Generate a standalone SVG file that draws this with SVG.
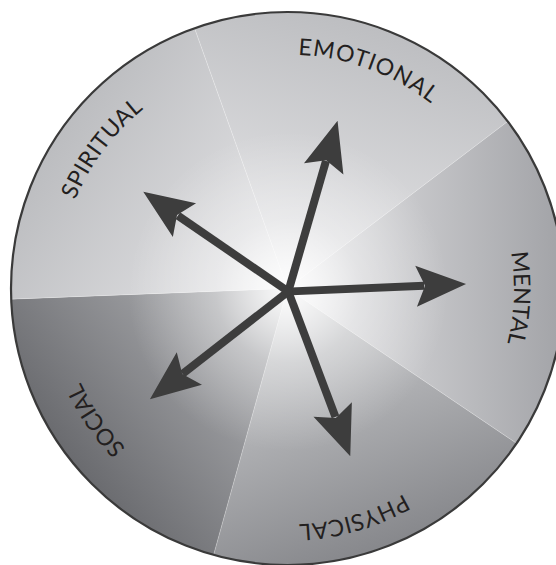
<svg xmlns="http://www.w3.org/2000/svg" xmlns:xlink="http://www.w3.org/1999/xlink" width="556" height="565" viewBox="0 0 556 565">
<style>
.lbl{font-family:Lato,"Open Sans","DejaVu Sans",sans-serif;font-size:23px;fill:#231f20;}
.shaft{stroke:#3d3d3d;stroke-width:8;fill:none;}
.head{fill:#3d3d3d;}
.seam{stroke:#ffffff;stroke-opacity:0.35;stroke-width:0.8;fill:none;}
</style>
<defs>
<clipPath id="clip"><circle cx="287.5" cy="288.5" r="276.5"/></clipPath>
<linearGradient id="gSpi" gradientUnits="userSpaceOnUse" x1="287.5" y1="288.5" x2="58.9" y2="133.8"><stop offset="0" stop-color="#e8e8ea"/><stop offset="1" stop-color="#bcbdc0"/></linearGradient>
<linearGradient id="gEmo" gradientUnits="userSpaceOnUse" x1="287.5" y1="288.5" x2="366.4" y2="24"><stop offset="0" stop-color="#e8e8ea"/><stop offset="1" stop-color="#bdbec1"/></linearGradient>
<linearGradient id="gMen" gradientUnits="userSpaceOnUse" x1="287.5" y1="288.5" x2="563.4" y2="280.8"><stop offset="0" stop-color="#e6e6e8"/><stop offset="1" stop-color="#a2a3a7"/></linearGradient>
<linearGradient id="gPhy" gradientUnits="userSpaceOnUse" x1="287.5" y1="288.5" x2="382.8" y2="547.5"><stop offset="0" stop-color="#d2d3d5"/><stop offset="1" stop-color="#87888c"/></linearGradient>
<linearGradient id="gSoc" gradientUnits="userSpaceOnUse" x1="287.5" y1="288.5" x2="71" y2="459.7"><stop offset="0" stop-color="#bcbdc0"/><stop offset="1" stop-color="#6a6b6f"/></linearGradient>
<radialGradient id="glow" gradientUnits="userSpaceOnUse" cx="288" cy="291" r="160"><stop offset="0" stop-color="#ffffff" stop-opacity="0.95"/><stop offset="0.45" stop-color="#ffffff" stop-opacity="0.35"/><stop offset="1" stop-color="#ffffff" stop-opacity="0"/></radialGradient>
<path id="c234" d="M-234,0 A234,234 0 1 1 234,0 A234,234 0 1 1 -234,0"/>
<path id="c230" d="M-230,0 A230,230 0 1 1 230,0 A230,230 0 1 1 -230,0"/>
<path id="c226" d="M-226.5,0 A226.5,226.5 0 1 1 226.5,0 A226.5,226.5 0 1 1 -226.5,0"/>
<path id="c236" d="M-236,0 A236,236 0 1 1 236,0 A236,236 0 1 1 -236,0"/>
<path id="c227" d="M-227,0 A227,227 0 1 1 227,0 A227,227 0 1 1 -227,0"/>
<polygon id="ahead" points="0,0 -50,-20.5 -41,0 -50,20.5"/>
</defs>

<g clip-path="url(#clip)">
<g id="emotional-sector"><polygon points="287.5,288.5 153,-88.2 606.1,46.7" fill="url(#gEmo)"/></g>
<g id="mental-sector"><polygon points="287.5,288.5 606.1,46.7 618.9,512.5" fill="url(#gMen)"/></g>
<g id="physical-sector"><polygon points="287.5,288.5 618.9,512.5 180.6,673.9" fill="url(#gPhy)"/></g>
<g id="social-sector"><polygon points="287.5,288.5 180.6,673.9 -112.2,303.9" fill="url(#gSoc)"/></g>
<g id="spiritual-sector"><polygon points="287.5,288.5 -112.2,303.9 153,-88.2" fill="url(#gSpi)"/></g>
<circle cx="288" cy="291" r="170" fill="url(#glow)"/>
<path class="seam" d="M287.5,288.5 L153,-88.2 M287.5,288.5 L606.1,46.7 M287.5,288.5 L618.9,512.5 M287.5,288.5 L180.6,673.9 M287.5,288.5 L-112.2,303.9"/>
</g>
<circle cx="287.5" cy="288.5" r="276.5" fill="none" stroke="#3a3a3a" stroke-width="2.2"/>

<g id="label-emotional" transform="translate(287.5,288.5) rotate(-69.7)"><text class="lbl" text-anchor="middle" letter-spacing="1"><textPath xlink:href="#c234" href="#c234" startOffset="50%">EMOTIONAL</textPath></text></g>
<g id="label-spiritual" transform="translate(287.5,288.5) rotate(-143)"><text class="lbl" text-anchor="middle" letter-spacing="0.5"><textPath xlink:href="#c230" href="#c230" startOffset="50%">SPIRITUAL</textPath></text></g>
<g id="label-mental" transform="translate(287.5,288.5) rotate(2.4)"><text class="lbl" text-anchor="middle"><textPath xlink:href="#c226" href="#c226" startOffset="50%">MENTAL</textPath></text></g>
<g id="label-physical" transform="translate(287.5,288.5) rotate(73.9)"><text class="lbl" text-anchor="middle" letter-spacing="0.5"><textPath xlink:href="#c236" href="#c236" startOffset="50%">PHYSICAL</textPath></text></g>
<g id="label-social" transform="translate(287.5,288.5) rotate(145.5)"><text class="lbl" text-anchor="middle"><textPath xlink:href="#c227" href="#c227" startOffset="50%">SOCIAL</textPath></text></g>

<g id="connectors">
<g id="arrow-emotional" transform="translate(288.3,291.5) rotate(-73.9)"><line class="shaft" x1="-3" y1="0" x2="136" y2="0"/><use href="#ahead" xlink:href="#ahead" class="head" x="177.6"/></g>
<g id="arrow-mental" transform="translate(288.3,291.5) rotate(-2.4)"><line class="shaft" x1="-3" y1="0" x2="136" y2="0"/><use href="#ahead" xlink:href="#ahead" class="head" x="177.9"/></g>
<g id="arrow-physical" transform="translate(288.3,291.5) rotate(69.4)"><line class="shaft" x1="-3" y1="0" x2="134" y2="0"/><use href="#ahead" xlink:href="#ahead" class="head" x="176.1"/></g>
<g id="arrow-social" transform="translate(288.3,291.5) rotate(142.1)"><line class="shaft" x1="-3" y1="0" x2="134" y2="0"/><use href="#ahead" xlink:href="#ahead" class="head" x="175.4"/></g>
<g id="arrow-spiritual" transform="translate(288.3,291.5) rotate(214.5)"><line class="shaft" x1="-3" y1="0" x2="134" y2="0"/><use href="#ahead" xlink:href="#ahead" class="head" x="176"/></g>
</g>
</svg>
